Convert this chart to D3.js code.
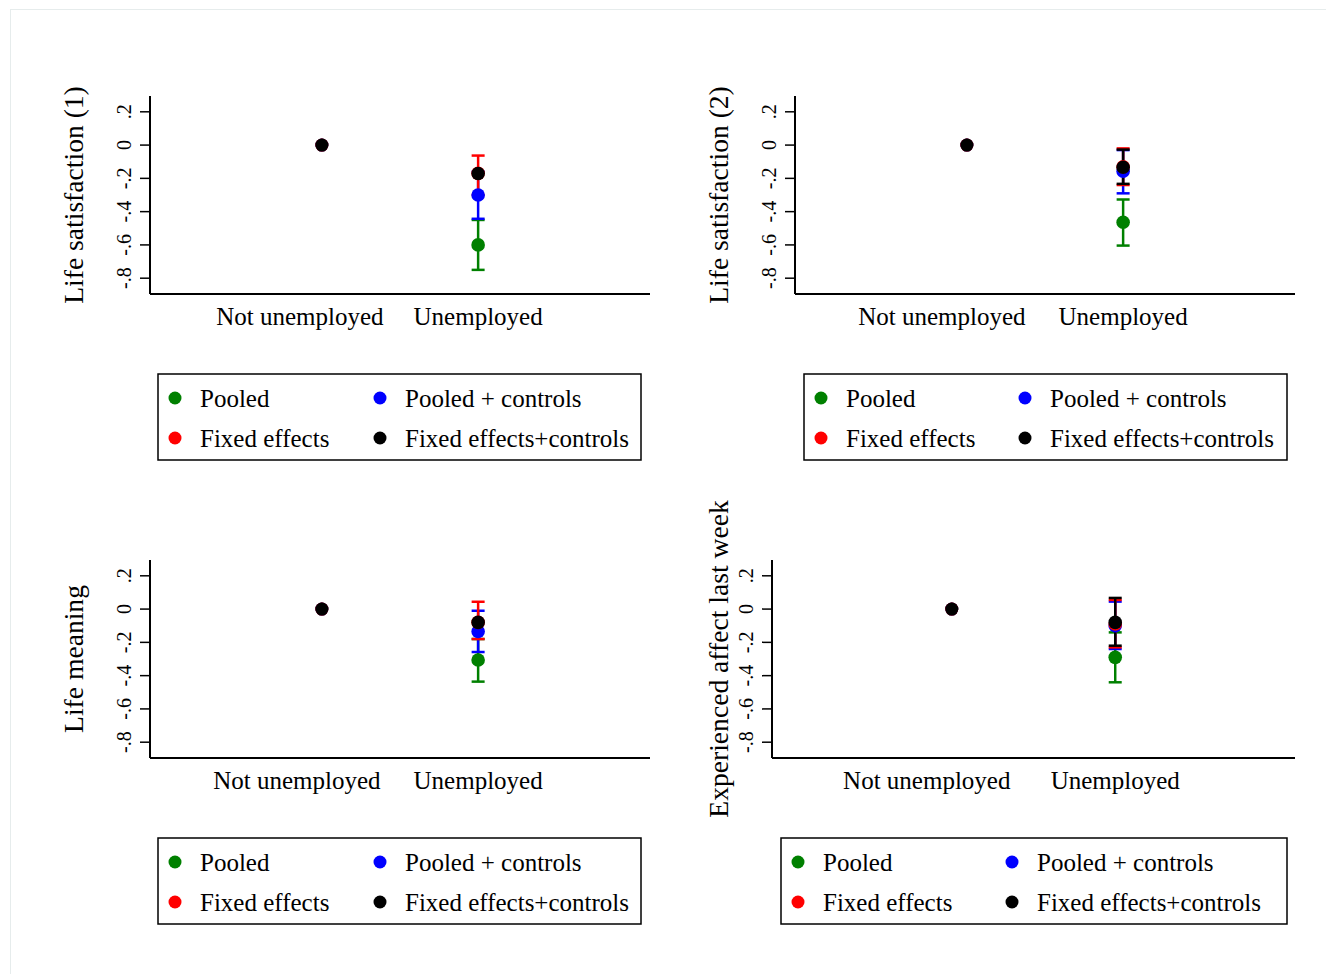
<!DOCTYPE html>
<html>
<head>
<meta charset="utf-8">
<script src="https://cdn.jsdelivr.net/npm/d3@7/dist/d3.min.js"></script>
<style>
  html, body { margin: 0; padding: 0; background: #fff; }
  svg text { font-family: "Liberation Serif", "Times New Roman", serif; fill: #000; }
</style>
</head>
<body>
<svg id="chart" width="1326" height="974"></svg>
<script>
// Unemployment coefficients on four well-being outcomes, four specifications.
const categories = ["Not unemployed", "Unemployed"];
const seriesNames = ["Pooled", "Fixed effects", "Pooled + controls", "Fixed effects+controls"];
const seriesColors = ["#008000", "#ff0000", "#0000ff", "#000000"];
const panelTitles = ["Life satisfaction (1)", "Life satisfaction (2)", "Life meaning", "Experienced affect last week"];
const yTickValues = [0.2, 0, -0.2, -0.4, -0.6, -0.8];
const yTickLabels = [".2", "0", "-.2", "-.4", "-.6", "-.8"];

// Estimates for "Unemployed" (reference category "Not unemployed" = 0), one entry per panel
const pooledEst = [-0.60, -0.464, -0.306, -0.29];
const pooledLo  = [-0.75, -0.604, -0.436, -0.44];
const pooledHi  = [-0.45, -0.327, -0.18, -0.14];

const feEst = [-0.17, -0.13, -0.08, -0.09];
const feLo  = [-0.30, -0.24, -0.18, -0.23];
const feHi  = [-0.063, -0.02, 0.044, 0.055];

const pcEst = [-0.30, -0.157, -0.135, -0.10];
const pcLo  = [-0.443, -0.29, -0.258, -0.24];
const pcHi  = [-0.16, -0.03, -0.01, 0.045];

const fecEst = [-0.171, -0.133, -0.08, -0.08];
const fecLo  = [null, -0.233, null, -0.22];
const fecHi  = [null, -0.027, null, 0.067];

const refValue = 0;

const estimates = [pooledEst, feEst, pcEst, fecEst];
const lowers = [pooledLo, feLo, pcLo, fecLo];
const uppers = [pooledHi, feHi, pcHi, fecHi];
// drawing order of the series: pooled, pooled + controls, fixed effects, fixed effects+controls
const drawOrder = [0, 2, 1, 3];

// Panel geometry
const panels = [
  { left: 150, right: 650, top: 96, bottom: 294, tickX: 131, titleX: 83, catShift: -22,
    legend: { x: 158, y: 374, w: 483, col2: 222 } },
  { left: 795, right: 1295, top: 96, bottom: 294, tickX: 776, titleX: 728, catShift: -25,
    legend: { x: 804, y: 374, w: 483, col2: 221 } },
  { left: 150, right: 650, top: 560, bottom: 758, tickX: 131, titleX: 83, catShift: -25,
    legend: { x: 158, y: 838, w: 483, col2: 222 } },
  { left: 772, right: 1295, top: 560, bottom: 758, tickX: 753, titleX: 728, catShift: -25,
    legend: { x: 781, y: 838, w: 506, col2: 231 } }
];

const svg = d3.select("#chart");

// faint outer frame
svg.append("rect")
  .attr("x", 10.5).attr("y", 9.5)
  .attr("width", 1330).attr("height", 980)
  .attr("fill", "none").attr("stroke", "#e6ecec").attr("stroke-width", 1);

panels.forEach((p, i) => {
  const g = svg.append("g");

  const x = d3.scalePoint().domain(categories).range([p.left, p.right]).padding(1.1);
  const y = d3.scaleLinear().domain([-0.895, 0.295]).range([p.bottom, p.top]);

  // y axis
  g.append("line")
    .attr("x1", p.left).attr("x2", p.left)
    .attr("y1", p.top).attr("y2", p.bottom)
    .attr("stroke", "#000").attr("stroke-width", 2);
  yTickValues.forEach((v, k) => {
    g.append("line")
      .attr("x1", p.left - 10).attr("x2", p.left)
      .attr("y1", y(v)).attr("y2", y(v))
      .attr("stroke", "#000").attr("stroke-width", 1.5);
    g.append("text")
      .attr("transform", `translate(${p.tickX},${y(v)}) rotate(-90)`)
      .attr("text-anchor", "middle")
      .attr("font-size", 20)
      .text(yTickLabels[k]);
  });

  // x axis
  g.append("line")
    .attr("x1", p.left).attr("x2", p.right)
    .attr("y1", p.bottom).attr("y2", p.bottom)
    .attr("stroke", "#000").attr("stroke-width", 2);
  categories.forEach((c, k) => {
    g.append("text")
      .attr("x", x(c) + (k === 0 ? p.catShift : 0))
      .attr("y", p.bottom + 31)
      .attr("text-anchor", "middle")
      .attr("font-size", 25)
      .text(c);
  });

  // y title
  g.append("text")
    .attr("transform", `translate(${p.titleX},${(p.top + p.bottom) / 2}) rotate(-90)`)
    .attr("text-anchor", "middle")
    .attr("font-size", 27.6)
    .text(panelTitles[i]);

  // reference category points
  drawOrder.forEach(s => {
    g.append("circle")
      .attr("cx", x(categories[0])).attr("cy", y(refValue))
      .attr("r", 6.5).attr("fill", seriesColors[s]);
  });

  // confidence intervals
  drawOrder.forEach(s => {
    const lo = lowers[s][i], hi = uppers[s][i];
    if (lo === null || hi === null) return;
    const cx = x(categories[1]);
    const col = seriesColors[s];
    g.append("line").attr("x1", cx).attr("x2", cx)
      .attr("y1", y(lo)).attr("y2", y(hi))
      .attr("stroke", col).attr("stroke-width", 2.5);
    [lo, hi].forEach(v => {
      g.append("line").attr("x1", cx - 6.5).attr("x2", cx + 6.5)
        .attr("y1", y(v)).attr("y2", y(v))
        .attr("stroke", col).attr("stroke-width", 2.5);
    });
  });

  // point estimates
  drawOrder.forEach(s => {
    g.append("circle")
      .attr("cx", x(categories[1])).attr("cy", y(estimates[s][i]))
      .attr("r", 6.8).attr("fill", seriesColors[s]);
  });

  // legend
  const L = p.legend;
  const lg = svg.append("g");
  lg.append("rect")
    .attr("x", L.x).attr("y", L.y)
    .attr("width", L.w).attr("height", 86)
    .attr("fill", "#fff").attr("stroke", "#000").attr("stroke-width", 1.5);
  const legendOrder = [0, 2, 1, 3]; // row-major: Pooled, Pooled + controls / Fixed effects, FE+controls
  legendOrder.forEach((s, k) => {
    const col = k % 2, row = Math.floor(k / 2);
    const mx = L.x + (col === 0 ? 17 : L.col2);
    const my = L.y + 24 + row * 40;
    lg.append("circle").attr("cx", mx).attr("cy", my).attr("r", 6.5).attr("fill", seriesColors[s]);
    lg.append("text")
      .attr("x", mx + 25).attr("y", my + 9)
      .attr("font-size", 25)
      .text(seriesNames[s]);
  });
});
</script>
</body>
</html>
